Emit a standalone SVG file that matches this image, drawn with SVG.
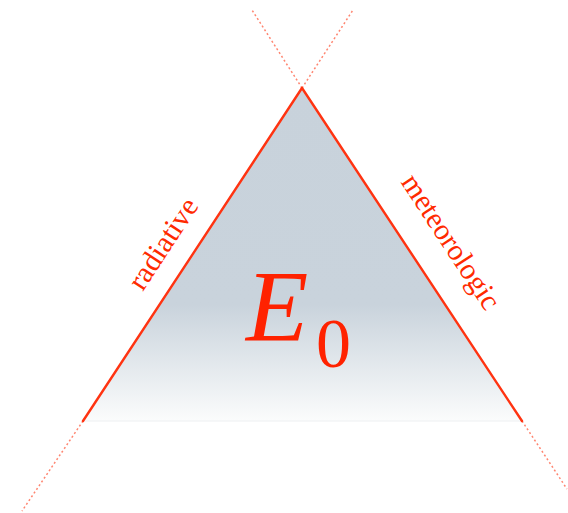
<svg xmlns="http://www.w3.org/2000/svg" width="568" height="513" viewBox="0 0 568 513">
<defs>
<linearGradient id="fill" gradientUnits="userSpaceOnUse" x1="0" y1="88" x2="0" y2="421">
<stop offset="0" stop-color="#c8d2db"/>
<stop offset="0.65" stop-color="#c9d3dc"/>
<stop offset="1" stop-color="#fbfcfc"/>
</linearGradient>
<style>
.edge{stroke:#ff3311;stroke-width:2.4;fill:none;stroke-linecap:round}
.ext{stroke:#ff3311;stroke-width:1.5;stroke-dasharray:2 2.5;fill:none;opacity:0.6}
.lbl{font-family:"Liberation Serif","Times New Roman",serif;fill:#ff2a00;font-size:29.5px}
</style>
</defs>
<rect width="568" height="513" fill="#ffffff"/>
<g id="triangle">
<polygon points="302,88 83,421 522,421" fill="url(#fill)"/>
<line x1="83" y1="421" x2="522" y2="421" stroke="#eef0f2" stroke-width="1"/>
</g>
<g id="connectors">
<line class="edge" x1="302" y1="88" x2="83" y2="421"/>
<line class="edge" x1="302" y1="88" x2="522" y2="421"/>
<line class="ext" x1="302" y1="88" x2="252" y2="10"/>
<line class="ext" x1="302" y1="88" x2="353" y2="10"/>
<line class="ext" x1="83" y1="421" x2="22" y2="511"/>
<line class="ext" x1="522" y1="421" x2="567" y2="489"/>
</g>
<g id="label-radiative">
<text class="lbl" text-anchor="middle" transform="translate(171,249) rotate(-56.7)">radiative</text>
</g>
<g id="label-meteorologic">
<text class="lbl" text-anchor="middle" transform="translate(443,247) rotate(56.7)">meteorologic</text>
</g>
<g id="label-E0">
<text x="246" y="341" style="font-family:'Liberation Serif','Times New Roman',serif;fill:#ff2200;font-size:102px;font-style:italic">E</text>
<text x="316" y="367" style="font-family:'Liberation Serif','Times New Roman',serif;fill:#ff2200;font-size:70px">0</text>
</g>
</svg>
